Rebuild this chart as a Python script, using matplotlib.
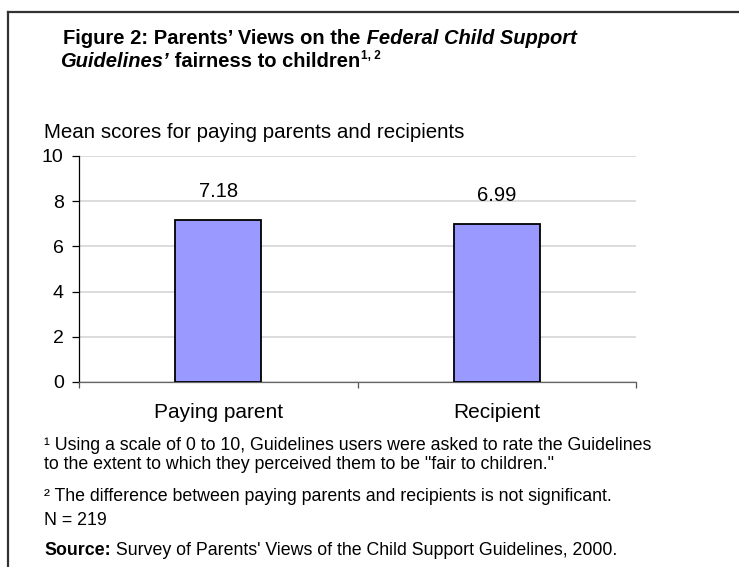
import matplotlib
matplotlib.use("Agg")
import matplotlib.pyplot as plt
from matplotlib.lines import Line2D

# data
categories = ["Paying parent", "Recipient"]
mean_scores = [7.18, 6.99]
y_ticks = [0, 2, 4, 6, 8, 10]

W, H = 739, 567
plt.rcParams["font.family"] = ["Liberation Sans", "DejaVu Sans"]

fig = plt.figure(figsize=(W / 100, H / 100), dpi=100)
renderer = fig.canvas.get_renderer()


def fx(x):
    return x / W


def fy(y):
    return 1 - y / H


def run_text(x, y, pieces):
    """Draw text pieces one after another on a shared baseline (pixel coords, top-left origin)."""
    cur = x
    for s, kw in pieces:
        t = fig.text(fx(cur), fy(y - kw.pop("rise", 0)), s, va="baseline", ha="left", **kw)
        cur = t.get_window_extent(renderer).x1 + 0.5
    return cur


# frame around the figure
fig.add_artist(Line2D([fx(8), 1], [fy(12), fy(12)], color="#333333", lw=1.6))
fig.add_artist(Line2D([fx(8), fx(8)], [fy(12), 0], color="#333333", lw=1.6))

# title
tsize = 14.5
run_text(63, 44, [
    ("Figure 2: Parents\u2019 Views on the", dict(size=tsize, weight="bold")),
    (" Federal Child Support", dict(size=tsize, weight="bold", style="italic")),
])
run_text(60, 67, [
    ("Guidelines\u2019", dict(size=tsize, weight="bold", style="italic")),
    (" fairness to children", dict(size=tsize, weight="bold")),
    ("1, 2", dict(size=8.5, weight="bold", rise=8)),
])

# chart axes
left, right, top, bottom = 79, 636, 156, 382
ax = fig.add_axes([fx(left), fy(bottom), fx(right - left), (bottom - top) / H])

x = list(range(len(categories)))
bars = ax.bar(x, mean_scores, width=0.31, color="#9999FF", edgecolor="black", linewidth=1.3, zorder=3)
for b, v in zip(bars, mean_scores):
    ax.annotate(f"{v:.2f}", (b.get_x() + b.get_width() / 2, v), xytext=(0, 13.5),
                textcoords="offset points", ha="center", va="bottom", size=14.5)

ax.set_xlim(-0.5, len(categories) - 0.5)
ax.set_ylim(0, 10)
ax.set_yticks(y_ticks)
ax.tick_params(axis="y", direction="out", length=5, width=0.9, pad=6, labelsize=14)
ax.grid(axis="y", color="#d9d9d9", lw=1.3, zorder=0)

ax.set_xticks([i - 0.5 for i in range(len(categories) + 1)])
ax.set_xticklabels([])
ax.tick_params(axis="x", which="major", direction="out", length=4, width=0.9, color="#555555")
ax.set_xticks(x, minor=True)
ax.set_xticklabels(categories, minor=True)
ax.tick_params(axis="x", which="minor", length=0, pad=15, labelsize=15)

for s in ["top", "right"]:
    ax.spines[s].set_visible(False)
ax.spines["left"].set_color("black")
ax.spines["left"].set_linewidth(0.9)
ax.spines["bottom"].set_color("#666666")
ax.spines["bottom"].set_linewidth(0.9)

fig.text(fx(44), fy(138), "Mean scores for paying parents and recipients", size=14.8, va="baseline")

# notes
fsize = 12.75
fig.text(fx(44), fy(450), "\u00b9 Using a scale of 0 to 10, Guidelines users were asked to rate the Guidelines",
         size=fsize, va="baseline")
fig.text(fx(44), fy(469), "to the extent to which they perceived them to be \"fair to children.\"",
         size=fsize, va="baseline")
fig.text(fx(44), fy(501), "\u00b2 The difference between paying parents and recipients is not significant.",
         size=fsize, va="baseline")
fig.text(fx(44), fy(525), "N = 219", size=fsize, va="baseline")
run_text(44, 555, [
    ("Source:", dict(size=fsize, weight="bold")),
    (" Survey of Parents' Views of the Child Support Guidelines, 2000.", dict(size=fsize)),
])

fig.savefig("out.png", dpi=100)
